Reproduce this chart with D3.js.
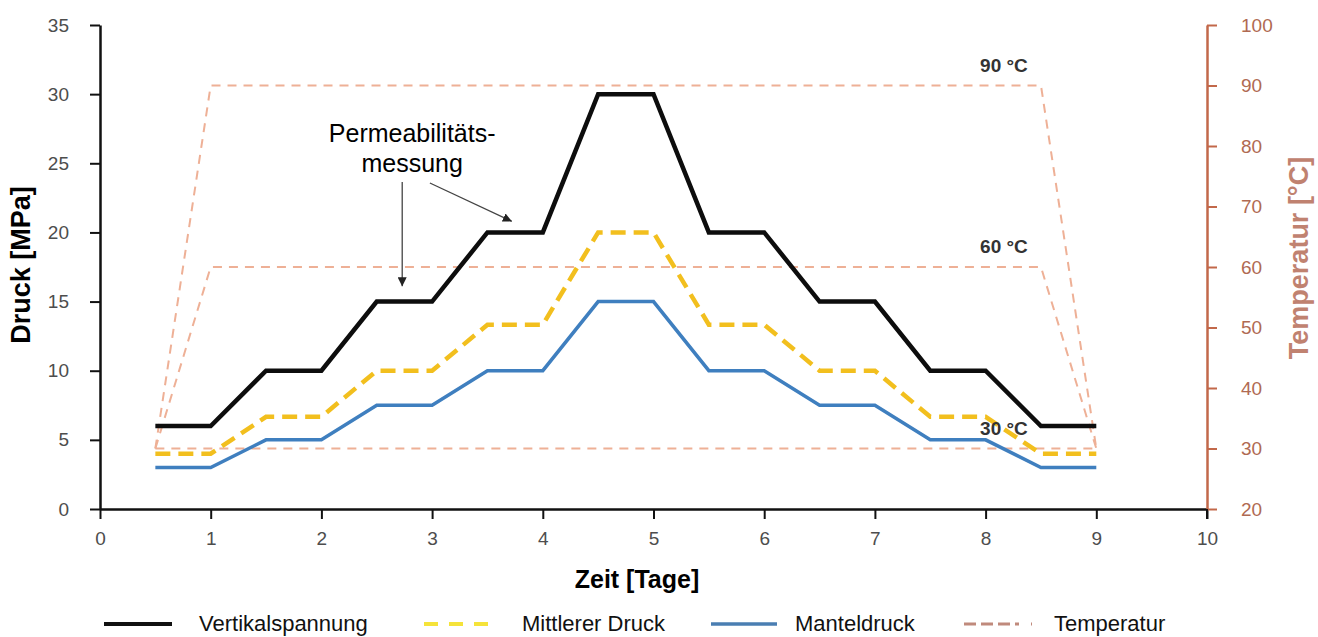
<!DOCTYPE html>
<html>
<head>
<meta charset="utf-8">
<script src="https://cdn.jsdelivr.net/npm/d3@7"></script>
<style>
  body { margin: 0; background: #ffffff; }
  svg { font-family: "Liberation Sans", Arial, sans-serif; }
</style>
</head>
<body>
<script>
// Druck-Verlauf (MPa) ueber die Zeit (Tage)
const days = [0.5, 1, 1.5, 2, 2.5, 3, 3.5, 4, 4.5, 5, 5.5, 6, 6.5, 7, 7.5, 8, 8.5, 9];
const vertikalspannung = [6, 6, 10, 10, 15, 15, 20, 20, 30, 30, 20, 20, 15, 15, 10, 10, 6, 6];
const mittlererDruck = [4, 4, 6.67, 6.67, 10, 10, 13.33, 13.33, 20, 20, 13.33, 13.33, 10, 10, 6.67, 6.67, 4, 4];
const manteldruck = [3, 3, 5, 5, 7.5, 7.5, 10, 10, 15, 15, 10, 10, 7.5, 7.5, 5, 5, 3, 3];

// Temperaturstufen (°C)
const tempDays = [0.5, 1, 8.5, 9];
const temp90 = [30, 90, 90, 30];
const temp60 = [30, 60, 60, 30];
const temp30Days = [0.5, 9];
const temp30 = [30, 30];
const tempLabels = ["90 °C", "60 °C", "30 °C"];
const tempLevels = [90, 60, 30];

const xTicks = [0, 1, 2, 3, 4, 5, 6, 7, 8, 9, 10];
const yTicks = [0, 5, 10, 15, 20, 25, 30, 35];
const tTicks = [20, 30, 40, 50, 60, 70, 80, 90, 100];

const legendNames = ["Vertikalspannung", "Mittlerer Druck", "Manteldruck", "Temperatur"];

const width = 1318, height = 637;
const svg = d3.select("body").append("svg")
    .attr("width", width)
    .attr("height", height);

let x = d3.scaleLinear().domain([0, 10]).range([100, 1207]);
let y = d3.scaleLinear().domain([0, 35]).range([509, 25]);
let yT = d3.scaleLinear().domain([20, 100]).range([509, 25]);

// axes
const xAxis = svg.append("g")
    .attr("transform", "translate(0,509)")
    .call(d3.axisBottom(x).tickValues(xTicks).tickSize(10).tickPadding(13).tickSizeOuter(0));
xAxis.select(".domain").attr("stroke", "#111").attr("stroke-width", 2.5);
xAxis.selectAll(".tick line").attr("stroke", "#111").attr("stroke-width", 2);
xAxis.selectAll("text").attr("fill", "#4d4d4d").attr("font-size", "19px");

const yAxis = svg.append("g")
    .attr("transform", "translate(100,0)")
    .call(d3.axisLeft(y).tickValues(yTicks).tickSize(10).tickPadding(21).tickSizeOuter(0));
yAxis.select(".domain").attr("stroke", "#111").attr("stroke-width", 2.5);
yAxis.selectAll(".tick line").attr("stroke", "#111").attr("stroke-width", 2);
yAxis.selectAll("text").attr("fill", "#4d4d4d").attr("font-size", "19px");

const tAxis = svg.append("g")
    .attr("transform", "translate(1207,0)")
    .call(d3.axisRight(yT).tickValues(tTicks).tickSize(10).tickPadding(24).tickSizeOuter(0));
tAxis.select(".domain").attr("stroke", "#c2684a").attr("stroke-width", 2.5);
tAxis.selectAll(".tick line").attr("stroke", "#c2684a").attr("stroke-width", 2);
tAxis.selectAll("text").attr("fill", "#b06a52").attr("font-size", "19px");

// bottom axis end tick drawn over the right axis
svg.append("line")
    .attr("x1", x(10)).attr("x2", x(10))
    .attr("y1", 509).attr("y2", 519)
    .attr("stroke", "#111").attr("stroke-width", 2);

// axis titles
svg.append("text")
    .attr("transform", "translate(30,265) rotate(-90)")
    .attr("text-anchor", "middle")
    .attr("font-size", "27px")
    .attr("font-weight", "bold")
    .attr("fill", "#000")
    .text("Druck [MPa]");

svg.append("text")
    .attr("transform", "translate(1308,258) rotate(-90)")
    .attr("text-anchor", "middle")
    .attr("font-size", "27px")
    .attr("font-weight", "bold")
    .attr("fill", "#c08270")
    .text("Temperatur [°C]");

svg.append("text")
    .attr("x", 637)
    .attr("y", 588)
    .attr("text-anchor", "middle")
    .attr("font-size", "25px")
    .attr("font-weight", "bold")
    .attr("fill", "#000")
    .text("Zeit [Tage]");

// temperature lines
const tempLine = d3.line().x(d => x(d[0])).y(d => yT(d[1]));
[[tempDays, temp90], [tempDays, temp60], [temp30Days, temp30]].forEach(([xs, ts]) => {
    svg.append("path")
        .datum(xs.map((d, i) => [d, ts[i]]))
        .attr("d", tempLine)
        .attr("fill", "none")
        .attr("stroke", "#eeb096")
        .attr("stroke-width", 2)
        .attr("stroke-dasharray", "9,7");
});

// pressure lines
const pLine = d3.line().x(d => x(d[0])).y(d => y(d[1]));
const pSeries = [
    {vals: manteldruck, color: "#3f7fbf", w: 3.5, dash: null},
    {vals: mittlererDruck, color: "#f2bf1e", w: 4.5, dash: "15,8"},
    {vals: vertikalspannung, color: "#0d0d0d", w: 4.5, dash: null}
];
pSeries.forEach(s => {
    svg.append("path")
        .datum(days.map((d, i) => [d, s.vals[i]]))
        .attr("d", pLine)
        .attr("fill", "none")
        .attr("stroke", s.color)
        .attr("stroke-width", s.w)
        .attr("stroke-linejoin", "miter")
        .attr("stroke-dasharray", s.dash);
});

// temperature labels
svg.selectAll(".tlabel")
    .data(tempLabels)
    .enter()
    .append("text")
    .attr("class", "tlabel")
    .attr("x", x(7.95))
    .attr("y", (d, i) => yT(tempLevels[i]) - 14)
    .attr("font-size", "19px")
    .attr("font-weight", "bold")
    .attr("fill", "#333")
    .text(d => d);

// annotation
svg.append("defs").append("marker")
    .attr("id", "arrow")
    .attr("viewBox", "0 0 10 10")
    .attr("refX", 10).attr("refY", 5)
    .attr("markerWidth", 9).attr("markerHeight", 9)
    .attr("markerUnits", "userSpaceOnUse")
    .attr("orient", "auto")
    .append("path")
    .attr("d", "M0,0 L10,5 L0,10 z")
    .attr("fill", "#222");

const ann = svg.append("text")
    .attr("text-anchor", "middle")
    .attr("font-size", "25px")
    .attr("fill", "#000");
ann.append("tspan").attr("x", x(2.82)).attr("y", 142).text("Permeabilitäts-");
ann.append("tspan").attr("x", x(2.82)).attr("y", 172).text("messung");

svg.append("line")
    .attr("x1", x(2.73)).attr("y1", 182)
    .attr("x2", x(2.73)).attr("y2", y(16.1))
    .attr("stroke", "#444").attr("stroke-width", 1.3)
    .attr("marker-end", "url(#arrow)");
svg.append("line")
    .attr("x1", x(2.98)).attr("y1", 183)
    .attr("x2", x(3.72)).attr("y2", y(20.8))
    .attr("stroke", "#444").attr("stroke-width", 1.3)
    .attr("marker-end", "url(#arrow)");

// legend
const legendItems = [
    {x0: 104, x1: 172, tx: 199, color: "#111", w: 4, dash: null},
    {x0: 424, x1: 492, tx: 522, color: "#f5e33a", w: 4, dash: "14,11"},
    {x0: 711, x1: 777, tx: 795, color: "#4a7eb2", w: 3.5, dash: null},
    {x0: 964, x1: 1032, tx: 1054, color: "#c08a7c", w: 3, dash: "12,5,12,5,12,5,4"}
];
const leg = svg.selectAll(".legend-item")
    .data(legendItems)
    .enter()
    .append("g")
    .attr("class", "legend-item");
leg.append("line")
    .attr("x1", d => d.x0).attr("x2", d => d.x1)
    .attr("y1", 624).attr("y2", 624)
    .attr("stroke", d => d.color)
    .attr("stroke-width", d => d.w)
    .attr("stroke-dasharray", d => d.dash);
leg.append("text")
    .attr("x", d => d.tx)
    .attr("y", 631)
    .attr("font-size", "22px")
    .attr("fill", "#111")
    .text((d, i) => legendNames[i]);
</script>
</body>
</html>
